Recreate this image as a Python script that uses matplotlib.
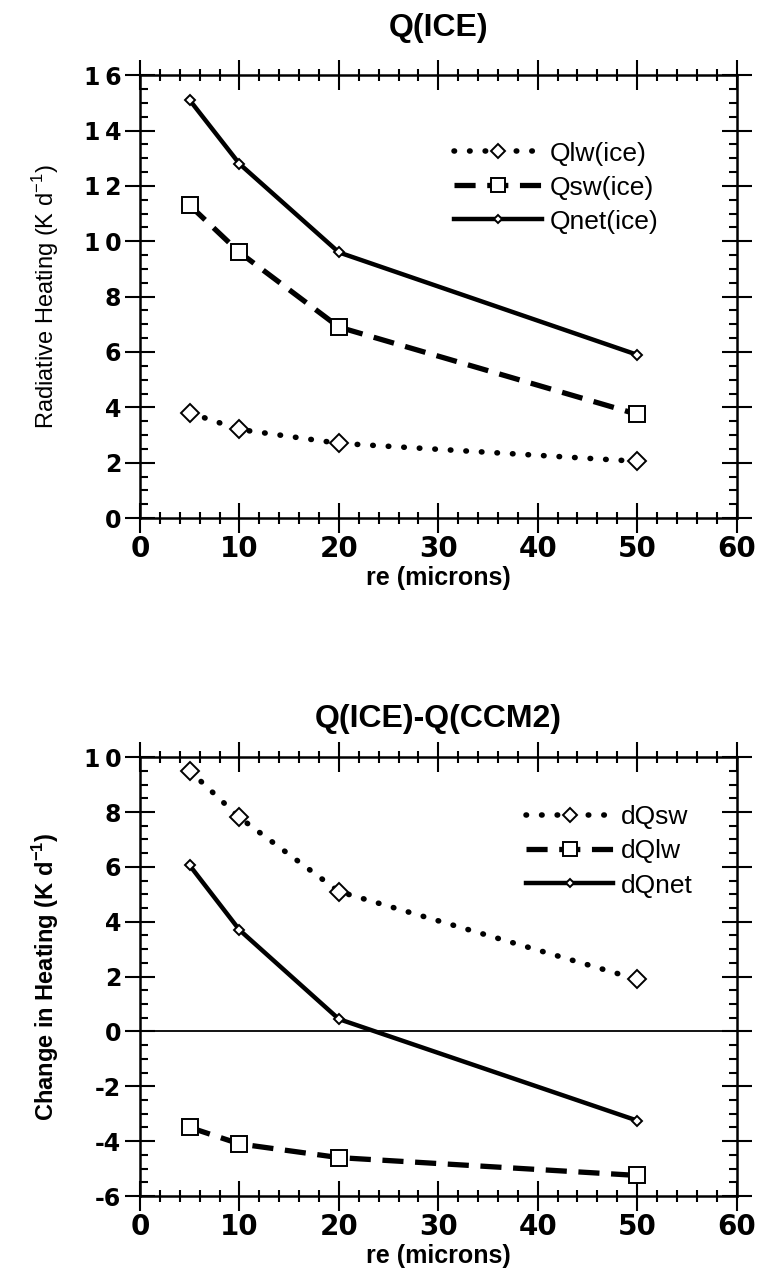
import matplotlib
matplotlib.use("Agg")
import matplotlib.pyplot as plt
from matplotlib.ticker import MultipleLocator, FuncFormatter

plt.rcParams['font.family'] = ['Liberation Sans', 'DejaVu Sans']
plt.rcParams['axes.unicode_minus'] = False

# effective radius (microns)
re = [5, 10, 20, 50]

# top panel: Q(ICE)
qlw_ice = [3.8, 3.2, 2.7, 2.05]
qsw_ice = [11.3, 9.6, 6.9, 3.75]
qnet_ice = [15.1, 12.8, 9.6, 5.9]

# bottom panel: Q(ICE)-Q(CCM2)
dqsw = [9.5, 7.8, 5.1, 1.9]
dqlw = [-3.5, -4.1, -4.6, -5.25]
dqnet = [6.05, 3.7, 0.45, -3.25]

fig = plt.figure(figsize=(7.57, 12.87), dpi=100)
ax1 = fig.add_axes([0.185, 0.5975, 0.788, 0.344])
ax2 = fig.add_axes([0.185, 0.0707, 0.788, 0.341])


def spaced(v, pos):
    # wide spacing between the digits, minus sign kept tight
    s = '%d' % abs(v)
    return ('-' if v < 0 else '') + '\u2009'.join(s)


def style_axes(ax, ymin, ymax):
    ax.set_xlim(0, 60)
    ax.set_ylim(ymin, ymax)
    ax.xaxis.set_major_locator(MultipleLocator(10))
    ax.xaxis.set_minor_locator(MultipleLocator(2))
    ax.yaxis.set_major_locator(MultipleLocator(2))
    ax.yaxis.set_minor_locator(MultipleLocator(0.5))
    ax.yaxis.set_major_formatter(FuncFormatter(spaced))
    ax.tick_params(which='both', direction='inout', top=True, right=True, width=1.5)
    ax.tick_params(which='major', length=21)
    ax.tick_params(axis='x', which='minor', length=9)
    ax.tick_params(axis='y', which='minor', direction='in', length=6)
    ax.tick_params(axis='x', which='major', labelsize=20, pad=2)
    ax.tick_params(axis='y', which='major', labelsize=17, pad=3)
    for lab in ax.get_xticklabels() + ax.get_yticklabels():
        lab.set_fontweight('bold')
        lab.set_family(['DejaVu Sans'])
    for s in ax.spines.values():
        s.set_linewidth(1.8)
    ax.set_xlabel('re (microns)', fontsize=18, fontweight='bold', labelpad=2)


mk = dict(markerfacecolor='white', markeredgecolor='black', markeredgewidth=1.4, color='black')
dot = dict(linestyle=(0, (0.1, 2.7)), linewidth=4, dash_capstyle='round', marker='D', markersize=9)
dash = dict(linestyle=(0, (4, 2.2)), linewidth=3.8, marker='s', markersize=12)
solid = dict(linestyle='-', linewidth=3.2, marker='D', markersize=5)
leg = dict(loc='upper left', frameon=False, fontsize=19, borderpad=0,
           handlelength=3.3, handletextpad=0.3, labelspacing=0.38, markerscale=0.8)

ax1.plot(re, qlw_ice, label='Qlw(ice)', **dot, **mk)
ax1.plot(re, qsw_ice, label='Qsw(ice)', **dash, **mk)
ax1.plot(re, qnet_ice, label='Qnet(ice)', **solid, **mk)
style_axes(ax1, 0, 16)
ax1.set_ylabel('Radiative Heating (K d$^{\\mathregular{-1}}$)', fontsize=17,
               labelpad=16)
ax1.set_title('Q(ICE)', fontsize=23, fontweight='bold', pad=28)
ax1.legend(bbox_to_anchor=(0.505, 0.88), **leg)

ax2.axhline(0, color='black', linewidth=1.3)
ax2.plot(re, dqsw, label='dQsw', **dot, **mk)
ax2.plot(re, dqlw, label='dQlw', **dash, **mk)
ax2.plot(re, dqnet, label='dQnet', **solid, **mk)
style_axes(ax2, -6, 10)
ax2.set_ylabel('Change in Heating (K d$^{\\mathregular{-1}}$)', fontsize=17,
               fontweight='bold', labelpad=16)
ax2.set_title('Q(ICE)-Q(CCM2)', fontsize=23, fontweight='bold', pad=22)
ax2.legend(bbox_to_anchor=(0.625, 0.92), **leg)

fig.savefig('out.png', dpi=100)
